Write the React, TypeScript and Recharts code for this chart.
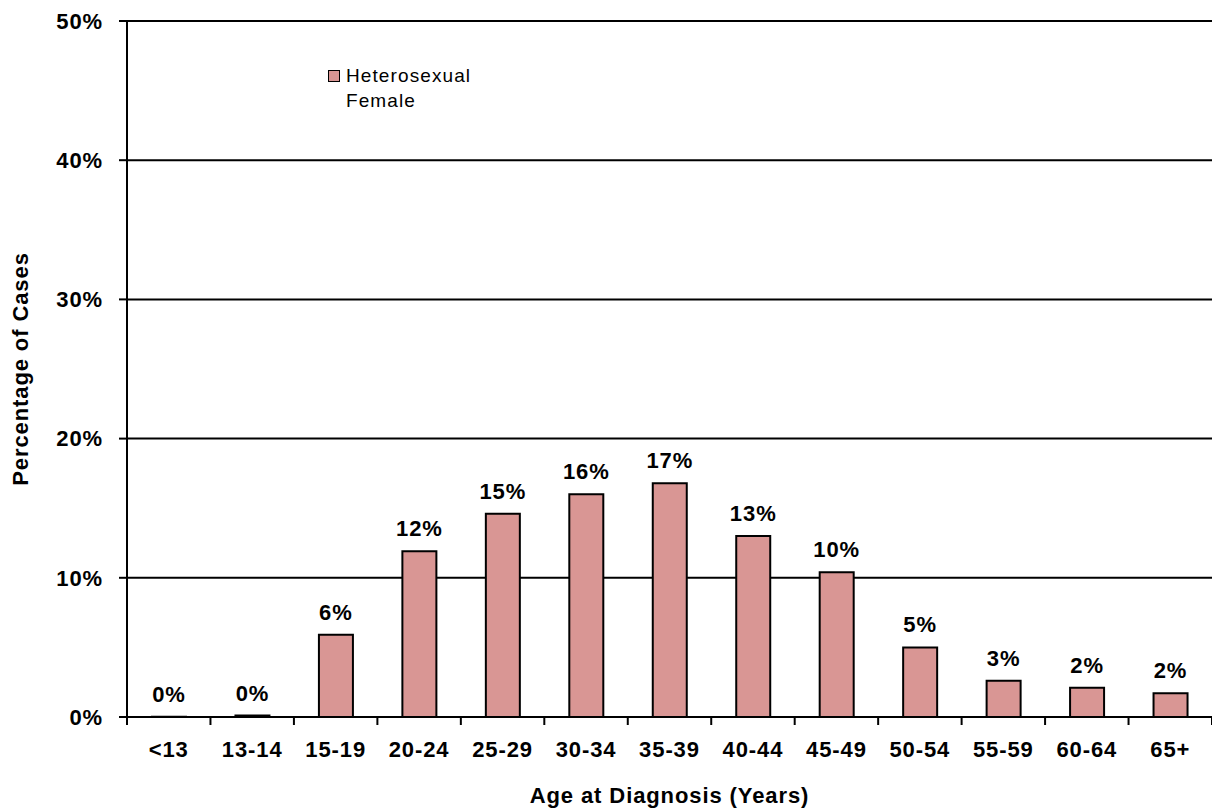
import React from 'react';
import { BarChart, Bar, XAxis, YAxis, CartesianGrid, LabelList, Label } from 'recharts';

// age groups and share of cases (%) for heterosexual females
const ageGroups = ['<13', '13-14', '15-19', '20-24', '25-29', '30-34', '35-39', '40-44', '45-49', '50-54', '55-59', '60-64', '65+'];
const femaleShare = [0.02, 0.1, 5.9, 11.9, 14.6, 16.0, 16.8, 13.0, 10.4, 5.0, 2.6, 2.1, 1.7];
const yTicks = [0, 10, 20, 30, 40, 50];

const FONT = '"Liberation Sans", Arial, sans-serif';
const BAR_FILL = '#D99694';
const TICK_SIZE = 8;
const TICK_MARGIN = 16;

const data = ageGroups.map((age, i) => ({ age, value: femaleShare[i] }));

const boldText = { fill: '#000', fontSize: 22, fontWeight: 700, fontFamily: FONT, letterSpacing: 0.9 };

// category label centred in its band, with tick marks on the band edges
const AgeTick = (props: any) => {
  const { x, y, payload, index } = props;
  const half = payload.offset ?? 0;
  const axisY = y - TICK_SIZE - TICK_MARGIN;
  const isLast = index === ageGroups.length - 1;
  return (
    <g>
      <line x1={x - half} x2={x - half} y1={axisY} y2={axisY + TICK_SIZE} stroke="#000" strokeWidth={2} />
      {isLast && <line x1={x + half} x2={x + half} y1={axisY} y2={axisY + TICK_SIZE} stroke="#000" strokeWidth={2} />}
      <text x={x} y={y} dy="0.71em" textAnchor="middle" style={boldText}>
        {payload.value}
      </text>
    </g>
  );
};

const LegendBox = () => (
  <div
    style={{
      position: 'absolute',
      left: 328,
      top: 63,
      display: 'flex',
      alignItems: 'flex-start',
      fontFamily: FONT,
      fontSize: 19,
      letterSpacing: 1.1,
      color: '#000',
      lineHeight: '25px',
    }}
  >
    <div style={{ width: 10, height: 10, background: BAR_FILL, border: '1.5px solid #000', marginTop: 7, marginRight: 6 }} />
    <div>
      <div>Heterosexual</div>
      <div>Female</div>
    </div>
  </div>
);

const App = () => {
  return (
    <div style={{ position: 'absolute', left: 0, top: 0, width: 1212, height: 812, background: '#fff' }}>
      <BarChart
        width={1212}
        height={812}
        data={data}
        margin={{ top: 21, right: 0, left: 0, bottom: 0 }}
      >
        <CartesianGrid vertical={false} stroke="#000" strokeWidth={2} />
        <XAxis
          dataKey="age"
          height={95}
          axisLine={{ stroke: '#000', strokeWidth: 2 }}
          tickLine={false}
          tickSize={TICK_SIZE}
          tickMargin={TICK_MARGIN}
          interval={0}
          tick={<AgeTick />}
        >
          <Label value="Age at Diagnosis (Years)" position="insideBottom" offset={9} style={boldText} />
        </XAxis>
        <YAxis
          width={127}
          domain={[0, 50]}
          ticks={yTicks}
          interval={0}
          tickFormatter={(v: number) => `${v}%`}
          axisLine={{ stroke: '#000', strokeWidth: 2 }}
          tickLine={{ stroke: '#000', strokeWidth: 2 }}
          tickSize={TICK_SIZE}
          tickMargin={TICK_MARGIN}
          tick={boldText}
        >
          <Label
            value="Percentage of Cases"
            angle={-90}
            position="insideLeft"
            offset={20}
            style={{ ...boldText, textAnchor: 'middle' }}
          />
        </YAxis>
        <Bar
          dataKey="value"
          fill={BAR_FILL}
          stroke="#000"
          strokeWidth={2}
          barSize={34}
          isAnimationActive={false}
        >
          <LabelList
            dataKey="value"
            position="top"
            offset={15}
            formatter={(v: any) => `${Math.round(Number(v))}%`}
            style={boldText}
          />
        </Bar>
      </BarChart>
      <LegendBox />
    </div>
  );
};

export default App;
